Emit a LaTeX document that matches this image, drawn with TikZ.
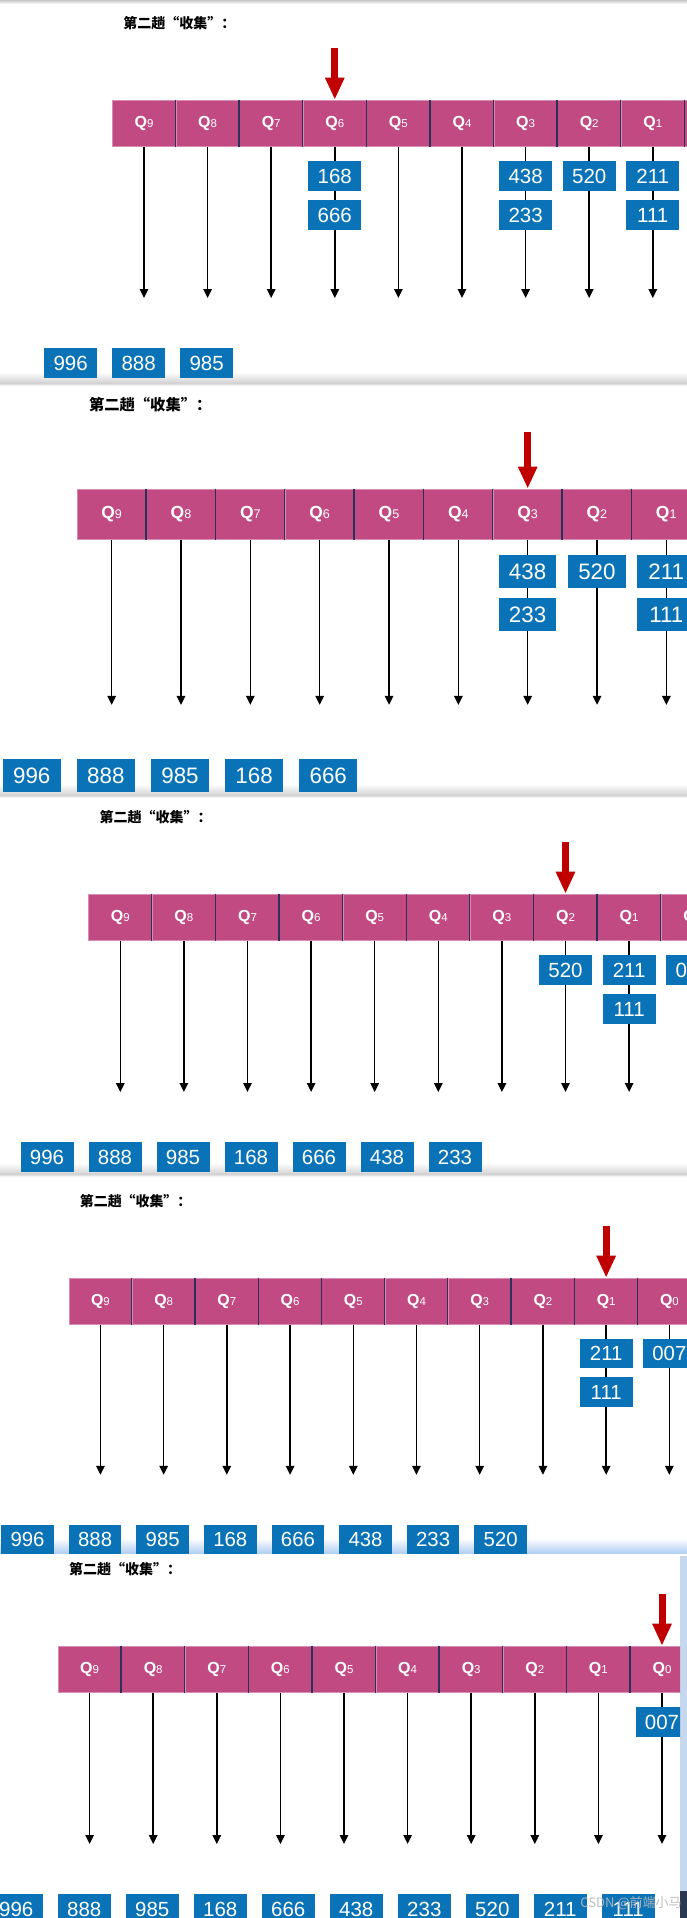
\documentclass[tikz,border=0pt]{standalone}
\usepackage{fontspec}
\setmainfont{Liberation Sans}
\newfontfamily\cjk{Noto Sans CJK SC}
\usetikzlibrary{arrows.meta}
\definecolor{QPink}{HTML}{C14A83}
\definecolor{QEdge}{HTML}{D88DB2}
\definecolor{QRule}{HTML}{2A2F5C}
\definecolor{VBlue}{HTML}{0A73B7}
\definecolor{PickRed}{HTML}{C00000}
\definecolor{GlowBlue}{HTML}{B3CFF2}
\definecolor{EdgeBlue}{HTML}{C6D8EE}
\definecolor{EdgeDark}{HTML}{2B3850}
\tikzset{
  qcell/.style={fill=QPink,draw=QEdge,line width=0.6pt,minimum width=63.6pt,minimum height=46.5pt,inner sep=0pt,text=white,font=\fontsize{16}{16}\selectfont\bfseries},
  qrule/.style={QRule,line width=1.3pt},
  valbox/.style={fill=VBlue,text=white,minimum width=53pt,minimum height=30pt,inner sep=0pt,font=\fontsize{20.5}{20}\selectfont},
  drop/.style={-{Triangle[width=8.5pt,length=9pt]},line width=1.5pt,black},
  pick/.style={-{Triangle[width=18pt,length=22pt]},line width=7pt,PickRed},
  passtitle/.style={anchor=west,inner sep=0pt,font=\cjk\bfseries\fontsize{14}{14}\selectfont},
}
\newcommand{\QLabel}[1]{Q{\fontsize{11.5}{11.5}\mdseries\selectfont #1}}
% #1 prefix, #2 current queue, #3 queue/slot/value, #4 collected values
\newcommand{\SortPass}[4]{%
  \node[passtitle] (#1t) at (11,-77) {第二趟“收集”：};
  \foreach \d [evaluate=\d as \cx using (9-\d)*63.6+31.8] in {9,8,...,0} {
    \node[qcell] (#1q\d) at (\cx,23.25) {\QLabel{\d}};
    \coordinate (#1e\d) at (\cx,198);
    \draw[drop] (#1q\d.south) -- (#1e\d);
  }
  \foreach \d in {8,7,...,0}
    \draw[qrule] (#1q\d.north west) -- (#1q\d.south west);
  \coordinate (#1a) at ({(9-#2)*63.6+31.8},-52);
  \draw[pick] (#1a) -- (#1q#2.north);
  \foreach \d/\s/\v in {#3} {
    \pgfmathsetmacro\cx{(9-\d)*63.6+31.8}
    \pgfmathsetmacro\cy{37+39*\s}
    \node[valbox] (#1s\v) at (\cx,\cy) {\v};
  }
  \foreach \v [count=\k from 0] in {#4}
    \node[valbox] (#1b\v) at ({(\k-1)*68+26.5},263) {\v};
}

\begin{document}
\begin{tikzpicture}[x=1pt,y=-1pt]
\useasboundingbox (0,0) rectangle (687,1918);
\fill[white] (0,0) rectangle (687,1918);
% screenshot seams
\shade[top color=gray!45,bottom color=white] (0,0) rectangle (687,4);
\foreach \y in {383,795,1174} {
  \shade[top color=white,bottom color=gray!35] (0,\y-11) rectangle (687,\y);
  \shade[top color=gray!35,bottom color=white] (0,\y) rectangle (687,\y+3);
}
\shade[top color=white,bottom color=GlowBlue] (0,1538) rectangle (687,1553);
\fill[EdgeBlue] (680,1556) rectangle (687,1918);
\fill[EdgeDark] (680,1891) rectangle (687,1918);

\begin{scope}
  \clip (0,0) rectangle (687,380);
  \begin{scope}[shift={(112.2,100)},transform shape]
    \SortPass{pa}{6}{6/1/168,6/2/666,3/1/438,3/2/233,2/1/520,1/1/211,1/2/111}{996,888,985}
  \end{scope}
\end{scope}

\begin{scope}
  \clip (0,383) rectangle (687,792);
  \begin{scope}[shift={(77,489)},scale=1.09,transform shape]
    \SortPass{pb}{3}{3/1/438,3/2/233,2/1/520,1/1/211,1/2/111}{996,888,985,168,666}
  \end{scope}
\end{scope}

\begin{scope}
  \clip (0,795) rectangle (687,1172.5);
  \begin{scope}[shift={(88.5,894)},transform shape]
    \SortPass{pc}{2}{2/1/520,1/1/211,1/2/111,0/1/007}{996,888,985,168,666,438,233}
  \end{scope}
\end{scope}

\begin{scope}
  \clip (0,1174) rectangle (687,1553);
  \begin{scope}[shift={(68.8,1278)},scale=0.994,transform shape]
    \SortPass{pd}{1}{1/1/211,1/2/111,0/1/007}{996,888,985,168,666,438,233,520}
  \end{scope}
\end{scope}

\begin{scope}
  \clip (0,1553) rectangle (680,1918);
  \begin{scope}[shift={(57.8,1646)},transform shape]
    \SortPass{pe}{0}{0/1/007}{996,888,985,168,666,438,233,520,211,111}
  \end{scope}
\end{scope}

\node[text=gray!55,opacity=0.9,inner sep=0pt,font=\cjk\fontsize{13}{13}\selectfont] (mark) at (631,1903) {CSDN @前端小马};
\end{tikzpicture}
\end{document}
